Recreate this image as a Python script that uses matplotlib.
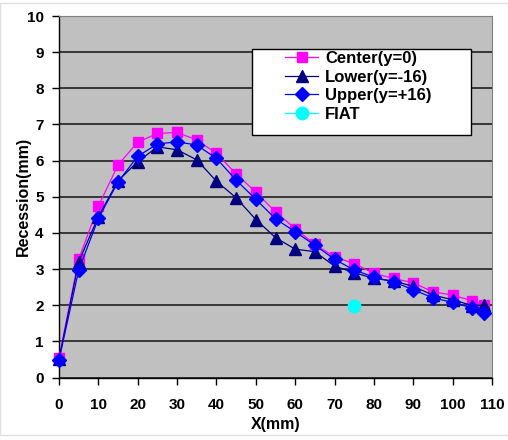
import matplotlib
matplotlib.use("Agg")
import matplotlib.pyplot as plt
from matplotlib.patches import Rectangle

x = [0, 5, 10, 15, 20, 25, 30, 35, 40, 45, 50, 55, 60, 65, 70, 75, 80, 85, 90, 95, 100, 105, 108]
center = [0.55, 3.27, 4.74, 5.88, 6.51, 6.75, 6.78, 6.57, 6.2, 5.63, 5.13, 4.58, 4.12, 3.68, 3.34, 3.15, 2.88, 2.74, 2.62, 2.37, 2.28, 2.12, 2.0]
lower = [0.5, 3.2, 4.45, 5.44, 5.97, 6.38, 6.3, 6.02, 5.43, 4.97, 4.37, 3.87, 3.55, 3.48, 3.08, 2.9, 2.74, 2.67, 2.52, 2.28, 2.15, 1.99, 2.0]
upper = [0.48, 2.97, 4.4, 5.41, 6.12, 6.46, 6.52, 6.43, 6.06, 5.46, 4.93, 4.39, 4.03, 3.66, 3.27, 2.97, 2.78, 2.64, 2.43, 2.2, 2.08, 1.92, 1.78]
fiat_x = [75]
fiat_y = [1.97]

plt.rcParams['font.family'] = ['Liberation Sans', 'DejaVu Sans']
plt.rcParams['font.weight'] = 'bold'

fig = plt.figure(figsize=(5.08, 4.4), dpi=100)
W, H = 508, 440
ax = fig.add_axes([59 / W, 1 - 377.5 / H, (492 - 59) / W, (377.5 - 16) / H])
ax.set_facecolor('#C0C0C0')
ax.set_xlim(0, 110)
ax.set_ylim(0, 10)
ax.set_xticks(range(0, 111, 10))
ax.set_yticks(range(0, 11, 1))
ax.yaxis.grid(True, color='#202020', linewidth=1.2)
ax.set_axisbelow(True)
for s in ['top', 'right']:
    ax.spines[s].set_color('#808080')
    ax.spines[s].set_linewidth(0.8)
for s in ['left', 'bottom']:
    ax.spines[s].set_color('black')
    ax.spines[s].set_linewidth(1.0)
ax.tick_params(axis='x', direction='out', length=5, width=1, labelsize=11, pad=10)
ax.tick_params(axis='y', direction='out', length=5, width=1, labelsize=11, pad=6)
for lab in ax.get_xticklabels() + ax.get_yticklabels():
    lab.set_fontweight('bold')

ax.plot(x, center, color='#FF00FF', lw=0.9, marker='s', ms=6.5, mec='#FF00FF', mfc='#FF00FF', label='Center(y=0)', clip_on=False, zorder=3)
ax.plot(x, lower, color='#000080', lw=0.9, marker='^', ms=8, mec='#000080', mfc='#000080', label='Lower(y=-16)', clip_on=False, zorder=4)
ax.plot(x, upper, color='#0000FF', lw=0.9, marker='D', ms=7, mec='#0000FF', mfc='#0000FF', label='Upper(y=+16)', clip_on=False, zorder=5)
ax.plot(fiat_x, fiat_y, color='#00FFFF', lw=0.9, marker='o', ms=9, mec='#00FFFF', mfc='#00FFFF', label='FIAT', clip_on=False, zorder=6)

ax.set_xlabel('X(mm)', fontsize=11.5, fontweight='bold', labelpad=3)
ax.set_ylabel('Recession(mm)', fontsize=11.5, fontweight='bold', labelpad=-3)

# legend frame
fig.patches.append(Rectangle((251.7 / W, 1 - 135 / H), (470.7 - 251.7) / W, (135 - 49.3) / H,
                             transform=fig.transFigure, facecolor='white', edgecolor='black', lw=1.0, zorder=10))
leg = fig.legend(*ax.get_legend_handles_labels(), loc='upper left',
                 bbox_to_anchor=(285 / W, 1 - 51 / H), bbox_transform=fig.transFigure,
                 frameon=False, prop={'size': 12, 'weight': 'bold'},
                 handlelength=2.0, labelspacing=0.22, borderpad=0, borderaxespad=0, handletextpad=0.4)
leg.set_zorder(11)

fig.patches.append(Rectangle((0, 0.012), 1, 0.982, transform=fig.transFigure, fill=False, edgecolor='#E0E0E0', lw=1))

fig.savefig('out.png', dpi=100)
